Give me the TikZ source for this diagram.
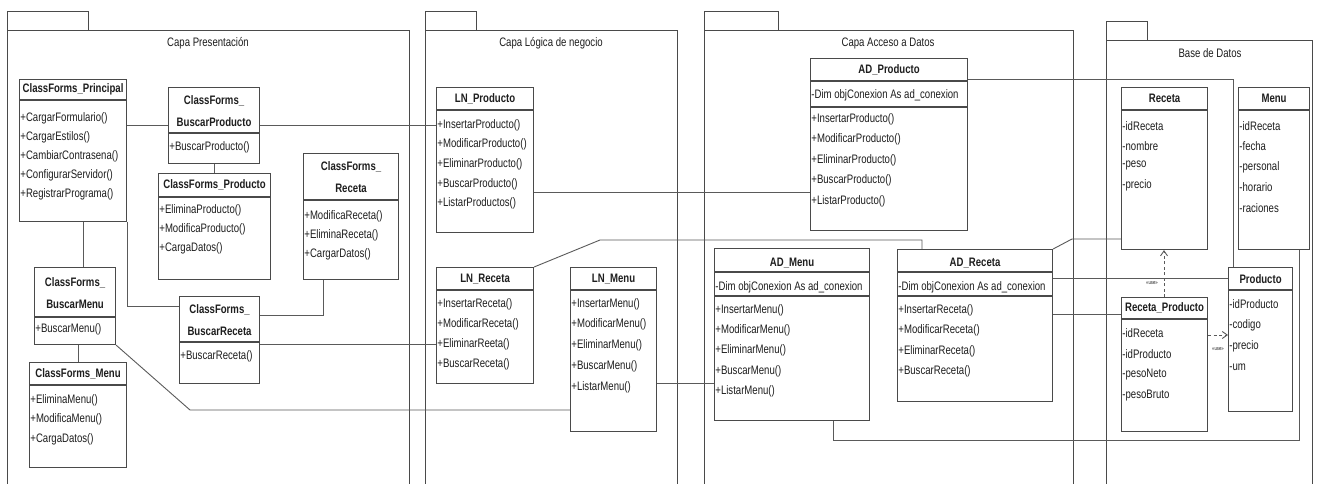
\documentclass[tikz,border=0pt]{standalone}
\usepackage{fontspec}
\setmainfont{Liberation Sans}[FakeStretch=0.78]
\usetikzlibrary{arrows.meta}

\definecolor{ink}{HTML}{1E1E1E}
\definecolor{edge}{HTML}{4A4A4A}
\definecolor{wirec}{HTML}{5A5A5A}

\tikzset{
  clsbox/.style={draw=edge, line width=1.1pt, fill=white, inner sep=0pt, anchor=north west},
  clsline/.style={draw=edge, line width=1.1pt},
  clsname/.style={font=\fontsize{12.3}{21.5}\selectfont\bfseries, text=ink, inner sep=0pt, align=center},
  member/.style={font=\fontsize{12.3}{14}\selectfont, text=ink, inner sep=0pt, anchor=west},
  wire/.style={draw=wirec, line width=0.9pt},
  pkg/.style={draw=edge, line width=1pt},
  pkgtitle/.style={font=\fontsize{12.3}{14}\selectfont, text=ink, inner sep=0pt},
  usedep/.style={draw=wirec, line width=0.9pt, dash pattern=on 3pt off 2.5pt,
    -{Straight Barb[length=5pt,width=7pt]}},
  uselabel/.style={font=\fontsize{5.5}{6}\selectfont, text=ink, inner sep=0pt},
}

% class box: name, x, y, width, height
\newcommand\umlclass[5]{\node[clsbox, minimum width=#4pt, minimum height=#5pt] (#1) at (#2,#3) {};}
% horizontal compartment line at a given depth below the top edge
\newcommand\compline[2]{\draw[clsline] ([yshift=-#2pt]#1.north west) -- ([yshift=-#2pt]#1.north east);}
% class title centred at a given depth
\newcommand\clstitle[3]{\node[clsname] (#1-t) at ([yshift=-#2pt]#1.north) {#3};}
% list of members: box, depth of first row, row step, items
\newcommand\members[4]{\foreach \m [count=\i] in {#4} {%
  \node[member] (#1-\i) at ([xshift=1.2pt,yshift={-(#2+(\i-1)*#3)*1pt}]#1.north west) {\m};}}

\begin{document}
\begin{tikzpicture}[x=1pt,y=-1pt]
\useasboundingbox (0,0) rectangle (1319,484);
\fill[white] (0,0) rectangle (1319,484);

% ---------- packages ----------
\draw[pkg] (7,12) rectangle (88,31);
\draw[pkg] (7,490) -- (7,31) -- (409,31) -- (409,490);
\node[pkgtitle] (tpres) at (208,43) {Capa Presentación};

\draw[pkg] (425,12) rectangle (476,31);
\draw[pkg] (425,490) -- (425,31) -- (677,31) -- (677,490);
\node[pkgtitle] (tlog) at (551,43) {Capa Lógica de negocio};

\draw[pkg] (704,12) rectangle (778,31);
\draw[pkg] (704,490) -- (704,31) -- (1073,31) -- (1073,490);
\node[pkgtitle] (tacc) at (888,43) {Capa Acceso a Datos};

\draw[pkg] (1106,22) rectangle (1147,41);
\draw[pkg] (1106,490) -- (1106,41) -- (1312,41) -- (1312,490);
\node[pkgtitle] (tbd) at (1210,53) {Base de Datos};

% ---------- presentation layer ----------
\umlclass{cfp}{19}{79}{107}{142}
\compline{cfp}{21}
\clstitle{cfp}{10.5}{ClassForms\_Principal}
\members{cfp}{39}{19}{+CargarFormulario(),+CargarEstilos(),+CambiarContrasena(),+ConfigurarServidor(),+RegistrarPrograma()}

\umlclass{cfbp}{168}{87}{91}{76}
\compline{cfbp}{46}
\clstitle{cfbp}{24}{ClassForms\_\\BuscarProducto}
\members{cfbp}{60}{19}{+BuscarProducto()}

\umlclass{cfpr}{158}{173}{112}{106}
\compline{cfpr}{24}
\clstitle{cfpr}{12}{ClassForms\_Producto}
\members{cfpr}{37}{19}{+EliminaProducto(),+ModificaProducto(),+CargaDatos()}

\umlclass{cfr}{303}{153}{95}{126}
\compline{cfr}{47}
\clstitle{cfr}{24}{ClassForms\_\\Receta}
\members{cfr}{63}{19}{+ModificaReceta(),+EliminaReceta(),+CargarDatos()}

\umlclass{cfbm}{34}{267}{81}{77}
\compline{cfbm}{50}
\clstitle{cfbm}{26}{ClassForms\_\\BuscarMenu}
\members{cfbm}{62}{19}{+BuscarMenu()}

\umlclass{cfm}{29}{362}{97}{105}
\compline{cfm}{23}
\clstitle{cfm}{12}{ClassForms\_Menu}
\members{cfm}{38}{19.5}{+EliminaMenu(),+ModificaMenu(),+CargaDatos()}

\umlclass{cfbr}{179}{296}{80}{87}
\compline{cfbr}{46}
\clstitle{cfbr}{24}{ClassForms\_\\BuscarReceta}
\members{cfbr}{60}{19}{+BuscarReceta()}

% ---------- business layer ----------
\umlclass{lnp}{436}{87}{97}{145}
\compline{lnp}{23}
\clstitle{lnp}{11.5}{LN\_Producto}
\members{lnp}{38}{19.7}{+InsertarProducto(),+ModificarProducto(),+EliminarProducto(),+BuscarProducto(),+ListarProductos()}

\umlclass{lnr}{436}{267}{97}{116}
\compline{lnr}{23}
\clstitle{lnr}{12}{LN\_Receta}
\members{lnr}{37}{20}{+InsertarReceta(),+ModificarReceta(),+EliminarReeta(),+BuscarReceta()}

\umlclass{lnm}{570}{267}{86}{164}
\compline{lnm}{23}
\clstitle{lnm}{12}{LN\_Menu}
\members{lnm}{37}{20.8}{+InsertarMenu(),+ModificarMenu(),+EliminarMenu(),+BuscarMenu(),+ListarMenu()}

% ---------- data access layer ----------
\umlclass{adp}{810}{58}{157}{172}
\compline{adp}{23}
\compline{adp}{49}
\clstitle{adp}{12}{AD\_Producto}
\members{adp}{37}{0}{-Dim objConexion As ad\_conexion}
\foreach \m [count=\i] in {+InsertarProducto(),+ModificarProducto(),+EliminarProducto(),+BuscarProducto(),+ListarProducto()}
  \node[member] (adp-op\i) at ([xshift=1.2pt,yshift={-(61+(\i-1)*20.6)*1pt}]adp.north west) {\m};

\umlclass{adm}{714}{248}{155}{172}
\compline{adm}{24}
\compline{adm}{48}
\clstitle{adm}{15}{AD\_Menu}
\members{adm}{39}{0}{-Dim objConexion As ad\_conexion}
\foreach \m [count=\i] in {+InsertarMenu(),+ModificarMenu(),+EliminarMenu(),+BuscarMenu(),+ListarMenu()}
  \node[member] (adm-op\i) at ([xshift=1.2pt,yshift={-(62+(\i-1)*20.4)*1pt}]adm.north west) {\m};

\umlclass{adr}{897}{249}{155}{152}
\compline{adr}{23}
\compline{adr}{47}
\clstitle{adr}{14}{AD\_Receta}
\members{adr}{38}{0}{-Dim objConexion As ad\_conexion}
\foreach \m [count=\i] in {+InsertarReceta(),+ModificarReceta(),+EliminarReceta(),+BuscarReceta()}
  \node[member] (adr-op\i) at ([xshift=1.2pt,yshift={-(61+(\i-1)*20.5)*1pt}]adr.north west) {\m};

% ---------- database ----------
\umlclass{dbr}{1121}{87}{86}{162}
\compline{dbr}{23}
\clstitle{dbr}{11.5}{Receta}
\members{dbr}{39}{19.7}{-idReceta,-nombre,-peso,-precio}

\umlclass{dbm}{1238}{87}{71}{162}
\compline{dbm}{23}
\clstitle{dbm}{11.5}{Menu}
\members{dbm}{39}{20.5}{-idReceta,-fecha,-personal,-horario,-raciones}

\umlclass{dbrp}{1121}{297}{86}{134}
\compline{dbrp}{22}
\clstitle{dbrp}{11}{Receta\_Producto}
\members{dbrp}{36}{20.7}{-idReceta,-idProducto,-pesoNeto,-pesoBruto}

\umlclass{dbpr}{1228}{267}{64}{144}
\compline{dbpr}{23}
\clstitle{dbpr}{12}{Producto}
\members{dbpr}{37}{21}{-idProducto,-codigo,-precio,-um}

% ---------- associations ----------
\draw[wire] (cfbp.west -| cfp.east) -- (cfbp.west);
\draw[wire] (cfbp.east) -- (cfbp.east -| lnp.west);
\draw[wire] (cfbp.south) -- (cfbp.south |- cfpr.north);
\coordinate (pm) at ([xshift=8.5pt]cfbm.north);
\draw[wire] (pm |- cfp.south) -- (pm);
\draw[wire] (cfm.north |- cfbm.south) -- (cfm.north);
\coordinate (prk) at ([yshift=-10pt]cfbr.north west);
\draw[wire] (cfp.south east) -- (cfp.south east |- prk) -- (prk);
\coordinate (rk) at ([xshift=20pt]cfr.south west);
\coordinate (rk2) at ([yshift=-19pt]cfbr.north east);
\draw[wire] (rk) -- (rk |- rk2) -- (rk2);
\coordinate (brl) at ([yshift=-48pt]cfbr.north east);
\draw[wire] (brl) -- (brl -| lnr.west);
\coordinate (bmk) at (190,410);
\draw[wire] (cfbm.south east) -- (bmk) -- (bmk -| lnm.west);

\coordinate (lpa) at ([yshift=-105pt]lnp.north east);
\draw[wire] (lpa) -- (lpa -| adp.west);
\coordinate (lrk) at (600,240);
\coordinate (lra) at ([xshift=25pt]adr.north west);
\draw[wire] (lnr.north east) -- (lrk) -- (lrk -| lra) -- (lra);
\coordinate (lma) at ([yshift=-116pt]lnm.north east);
\draw[wire] (lma) -- (lma -| adm.west);

\coordinate (apd) at ([yshift=-21pt]adp.north east);
\coordinate (pdk) at ([xshift=5pt]dbpr.north west);
\draw[wire] (apd) -- (apd -| pdk) -- (pdk);
\coordinate (amb) at ([xshift=119pt]adm.south west);
\coordinate (mbk) at ([xshift=-11pt]dbm.south east);
\coordinate (low) at (0,440);
\draw[wire] (amb) -- (amb |- low) -- (mbk |- low) -- (mbk);
\coordinate (ark) at (1072,239);
\draw[wire] (adr.north east) -- (ark) -- (ark -| dbr.west);
\coordinate (apr) at ([yshift=-29pt]adr.north east);
\draw[wire] (apr) -- (apr -| dbpr.west);
\coordinate (arp) at ([yshift=-65pt]adr.north east);
\draw[wire] (arp) -- (arp -| dbrp.west);

% ---------- dependencies ----------
\coordinate (ux) at ([xshift=43pt]dbrp.north west);
\draw[usedep] (ux) -- (ux |- dbr.south);
\node[uselabel] (ulab1) at (1152,283) {<<use>>};
\coordinate (uy) at ([yshift=-38pt]dbrp.north east);
\draw[usedep] (uy) -- (uy -| dbpr.west);
\node[uselabel] (ulab2) at (1218,349) {<<use>>};
\end{tikzpicture}
\end{document}
